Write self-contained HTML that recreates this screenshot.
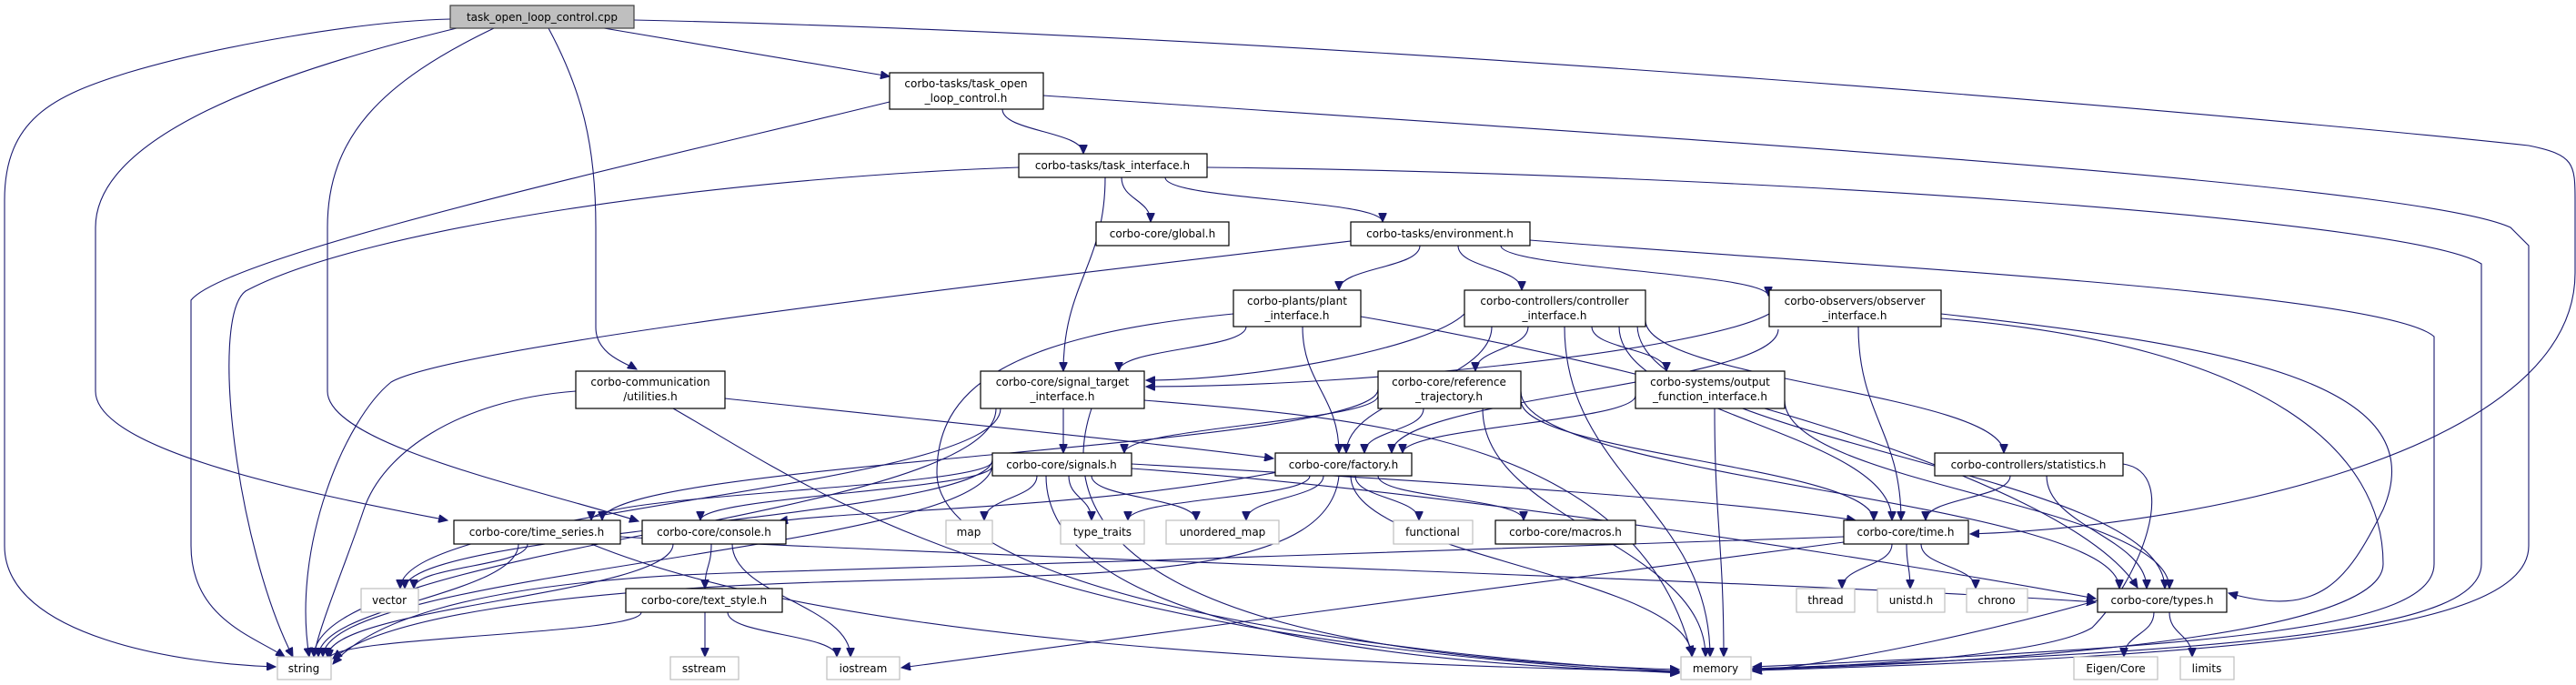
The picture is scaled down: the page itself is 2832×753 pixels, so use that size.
<!DOCTYPE html>
<html><head><meta charset="utf-8"><style>
html,body{margin:0;padding:0;background:#fff;}
svg{display:block;}
.n rect{fill:#fff;stroke:#000;stroke-width:1.2;}
.n.g rect{stroke:#bfbfbf;}
.n.r rect{fill:#bfbfbf;stroke:#404040;}
text{font-family:"DejaVu Sans","Liberation Sans",sans-serif;font-size:12px;fill:#000;text-anchor:middle;}
#edges path{fill:none;stroke:#191970;stroke-width:1.1;}
</style></head><body>
<svg id="s" width="2832" height="753" viewBox="0 0 2832 753" xmlns="http://www.w3.org/2000/svg">
<defs><marker id="a" markerUnits="userSpaceOnUse" markerWidth="11" markerHeight="9" refX="10" refY="4.5" orient="auto"><path d="M0,0 L10,4.5 L0,9 z" fill="#191970" stroke="#191970"/></marker></defs>
<g id="edges"></g>
<g id="nodes">
<g class="n r"><rect x="495" y="6" width="202" height="25"/><text x="596" y="23">task_open_loop_control.cpp</text></g>
<g class="n"><rect x="978" y="80" width="169" height="40"/><text x="1062" y="96">corbo-tasks/task_open</text><text x="1062" y="112">_loop_control.h</text></g>
<g class="n"><rect x="1120" y="169" width="207" height="26"/><text x="1223" y="186">corbo-tasks/task_interface.h</text></g>
<g class="n"><rect x="1205" y="244" width="146" height="26"/><text x="1278" y="261">corbo-core/global.h</text></g>
<g class="n"><rect x="1485" y="244" width="197" height="26"/><text x="1583" y="261">corbo-tasks/environment.h</text></g>
<g class="n"><rect x="1356" y="319" width="140" height="40"/><text x="1426" y="335">corbo-plants/plant</text><text x="1426" y="351">_interface.h</text></g>
<g class="n"><rect x="1610" y="319" width="199" height="40"/><text x="1709" y="335">corbo-controllers/controller</text><text x="1709" y="351">_interface.h</text></g>
<g class="n"><rect x="1945" y="319" width="189" height="40"/><text x="2039" y="335">corbo-observers/observer</text><text x="2039" y="351">_interface.h</text></g>
<g class="n"><rect x="633" y="408" width="164" height="41"/><text x="715" y="424">corbo-communication</text><text x="715" y="440">/utilities.h</text></g>
<g class="n"><rect x="1078" y="408" width="180" height="41"/><text x="1168" y="424">corbo-core/signal_target</text><text x="1168" y="440">_interface.h</text></g>
<g class="n"><rect x="1515" y="408" width="157" height="41"/><text x="1593" y="424">corbo-core/reference</text><text x="1593" y="440">_trajectory.h</text></g>
<g class="n"><rect x="1798" y="408" width="164" height="41"/><text x="1880" y="424">corbo-systems/output</text><text x="1880" y="440">_function_interface.h</text></g>
<g class="n"><rect x="1091" y="498" width="153" height="25"/><text x="1167" y="515">corbo-core/signals.h</text></g>
<g class="n"><rect x="1402" y="498" width="150" height="25"/><text x="1477" y="515">corbo-core/factory.h</text></g>
<g class="n"><rect x="2127" y="498" width="207" height="25"/><text x="2230" y="515">corbo-controllers/statistics.h</text></g>
<g class="n g"><rect x="1040" y="572" width="51" height="26"/><text x="1065" y="589">map</text></g>
<g class="n g"><rect x="1166" y="572" width="92" height="26"/><text x="1212" y="589">type_traits</text></g>
<g class="n g"><rect x="1282" y="572" width="124" height="26"/><text x="1344" y="589">unordered_map</text></g>
<g class="n g"><rect x="1532" y="572" width="87" height="26"/><text x="1575" y="589">functional</text></g>
<g class="n"><rect x="1644" y="572" width="154" height="26"/><text x="1721" y="589">corbo-core/macros.h</text></g>
<g class="n"><rect x="499" y="572" width="183" height="26"/><text x="590" y="589">corbo-core/time_series.h</text></g>
<g class="n"><rect x="706" y="572" width="158" height="26"/><text x="785" y="589">corbo-core/console.h</text></g>
<g class="n"><rect x="2027" y="572" width="137" height="26"/><text x="2095" y="589">corbo-core/time.h</text></g>
<g class="n g"><rect x="397" y="647" width="63" height="26"/><text x="428" y="664">vector</text></g>
<g class="n"><rect x="688" y="647" width="172" height="26"/><text x="774" y="664">corbo-core/text_style.h</text></g>
<g class="n g"><rect x="1975" y="647" width="64" height="26"/><text x="2007" y="664">thread</text></g>
<g class="n g"><rect x="2064" y="647" width="74" height="26"/><text x="2101" y="664">unistd.h</text></g>
<g class="n g"><rect x="2162" y="647" width="67" height="26"/><text x="2195" y="664">chrono</text></g>
<g class="n"><rect x="2306" y="647" width="142" height="26"/><text x="2377" y="664">corbo-core/types.h</text></g>
<g class="n g"><rect x="305" y="722" width="59" height="25"/><text x="334" y="739">string</text></g>
<g class="n g"><rect x="737" y="722" width="75" height="25"/><text x="774" y="739">sstream</text></g>
<g class="n g"><rect x="909" y="722" width="80" height="25"/><text x="949" y="739">iostream</text></g>
<g class="n g"><rect x="1848" y="722" width="77" height="25"/><text x="1886" y="739">memory</text></g>
<g class="n g"><rect x="2280" y="722" width="92" height="25"/><text x="2326" y="739">Eigen/Core</text></g>
<g class="n g"><rect x="2397" y="722" width="59" height="25"/><text x="2426" y="739">limits</text></g>
</g>
</svg>
<script>
(function(){
var ns="http://www.w3.org/2000/svg",G=document.getElementById("edges");
function add(d){var p=document.createElementNS(ns,"path");p.setAttribute("d",d);p.setAttribute("marker-end","url(#a)");G.appendChild(p);}
// vertical bezier
function v(sx,sy,tx,ty){var k=Math.max(25,(ty-sy)*0.45);add("M"+sx+","+sy+" C"+sx+","+(sy+k)+" "+tx+","+(ty-k)+" "+tx+","+ty);}
// to side (dir -1 = left side, +1 = right side)
function sd(sx,sy,tx,ty,dir){var k=Math.max(40,Math.abs(tx-sx)*0.35);add("M"+sx+","+sy+" C"+(sx- dir*k*0.3)+","+(sy+(ty-sy)*0.5)+" "+(tx+dir*k)+","+ty+" "+tx+","+ty);}
// custom
var C=[
"M495,21 C400,23 240,50 140,80 C60,105 5,130 5,220 L5,600 C5,700 200,730 303,733",
"M502,31 C300,80 105,150 105,250 L105,430 C105,500 380,550 492,572",
"M543,31 C420,90 360,150 360,250 L360,430 C360,490 600,540 702,573",
"M603,31 C640,100 655,160 655,250 L655,360 C655,390 690,400 700,406",
"M664,31 L978,84",
"M697,22 C1500,40 2500,130 2780,160 C2830,170 2831,180 2831,220 L2831,300 C2831,500 2400,580 2166,587",
"M1147,105 C1800,150 2650,200 2760,250 L2780,270 L2780,600 C2780,690 2500,720 1927,737",
"M1327,184 C1900,190 2650,240 2728,290 L2728,620 C2728,690 2500,715 1927,735",
"M1682,264 C2000,290 2620,320 2676,370 L2676,620 C2676,690 2450,710 1927,733",
"M978,112 C700,180 250,280 210,330 L210,600 C210,680 280,700 313,722",
"M1120,184 C800,195 400,250 270,320 C230,350 260,600 322,722",
"M1485,265 C1100,310 500,380 430,420 C380,460 320,600 340,722",
"M1496,348 C1800,400 2270,520 2350,646",
"M1356,345 C1100,370 1030,430 1030,520 C1030,650 1500,720 1846,738",
"M2134,345 C2450,380 2680,420 2620,560 C2580,640 2550,680 2450,652",
"M2134,350 C2500,380 2620,500 2620,620 C2620,690 2300,725 1927,736",
"M2334,510 C2400,520 2350,640 2300,690 C2250,720 2050,732 1927,735",
"M2306,660 C2200,690 2050,725 1927,738",
"M2027,590 C1700,600 1200,620 800,630 C500,640 400,690 366,730",
"M2027,596 C1700,640 1300,690 991,734",
"M797,438 C1000,460 1300,490 1400,504",
"M740,449 C900,540 1100,700 1846,740",
"M633,430 C500,440 420,500 400,560 C380,620 350,690 345,722",
"M1258,440 C1500,460 1800,480 1860,720",
"M1200,449 C1150,600 1300,720 1846,736",
"M1244,510 C1600,530 1900,550 2040,572",
"M1244,515 C1600,540 2100,620 2304,658",
"M682,590 C1000,610 2000,640 2304,662",
"M650,598 C900,700 1400,730 1846,738",
"M1150,523 C1150,680 1500,730 1846,739",
"M1420,516 C1200,560 950,560 856,573",
"M1472,523 C1460,640 1200,630 900,640 C600,650 420,680 366,724"
];
C.forEach(add);
var V=[
[1102,120,1191,169],[1233,195,1265,244],[1281,195,1520,244],[1215,195,1169,408],
[1561,270,1472,319],[1603,270,1673,319],[1650,270,1944,325],
[1370,359,1230,408],[1432,359,1472,498],
[1640,359,1480,498],[1680,359,1622,408],[1750,359,1832,408],[1809,352,2203,498],
[1780,359,2080,572],[1800,357,2380,647],[1720,359,1880,722],
[1955,362,1530,498],[2043,359,2090,572],
[1169,449,1169,498],[1100,449,440,647],[1095,449,345,722],
[1515,435,1236,498],[1515,428,662,572],[1565,449,1500,498],[1672,440,2060,572],[1672,430,2330,647],[1630,449,1875,722],
[1798,435,1542,498],[1962,440,2385,647],[1885,449,1895,722],
[1140,523,1082,572],[1175,523,1200,572],[1200,523,1315,572],
[1091,510,355,722],[1091,505,445,647],[1091,507,650,572],[1091,512,770,572],
[1440,523,1240,572],[1455,523,1370,572],[1490,523,1560,572],[1515,523,1675,572],[1485,523,1860,722],
[580,598,455,647],[570,598,350,722],[782,598,775,647],[740,598,360,722],[805,598,935,722],
[705,673,362,724],[775,673,775,722],[800,673,920,722],
[2210,523,2117,572],[2250,523,2360,647],
[2080,598,2025,647],[2096,598,2100,647],[2112,598,2172,647],
[2368,673,2335,722],[2385,673,2410,722]
];
V.forEach(function(e){v(e[0],e[1],e[2],e[3]);});
sd(1610,345,1260,418,1);
sd(1945,345,1260,425,1);
// fit text widths
var ts=document.querySelectorAll("#nodes g");
ts.forEach(function(g){var r=g.querySelector("rect"),w=+r.getAttribute("width")-12;
g.querySelectorAll("text").forEach(function(t){var l=t.getComputedTextLength();if(l>w){t.setAttribute("textLength",w);t.setAttribute("lengthAdjust","spacingAndGlyphs");}});});
})();
</script>
</body></html>
